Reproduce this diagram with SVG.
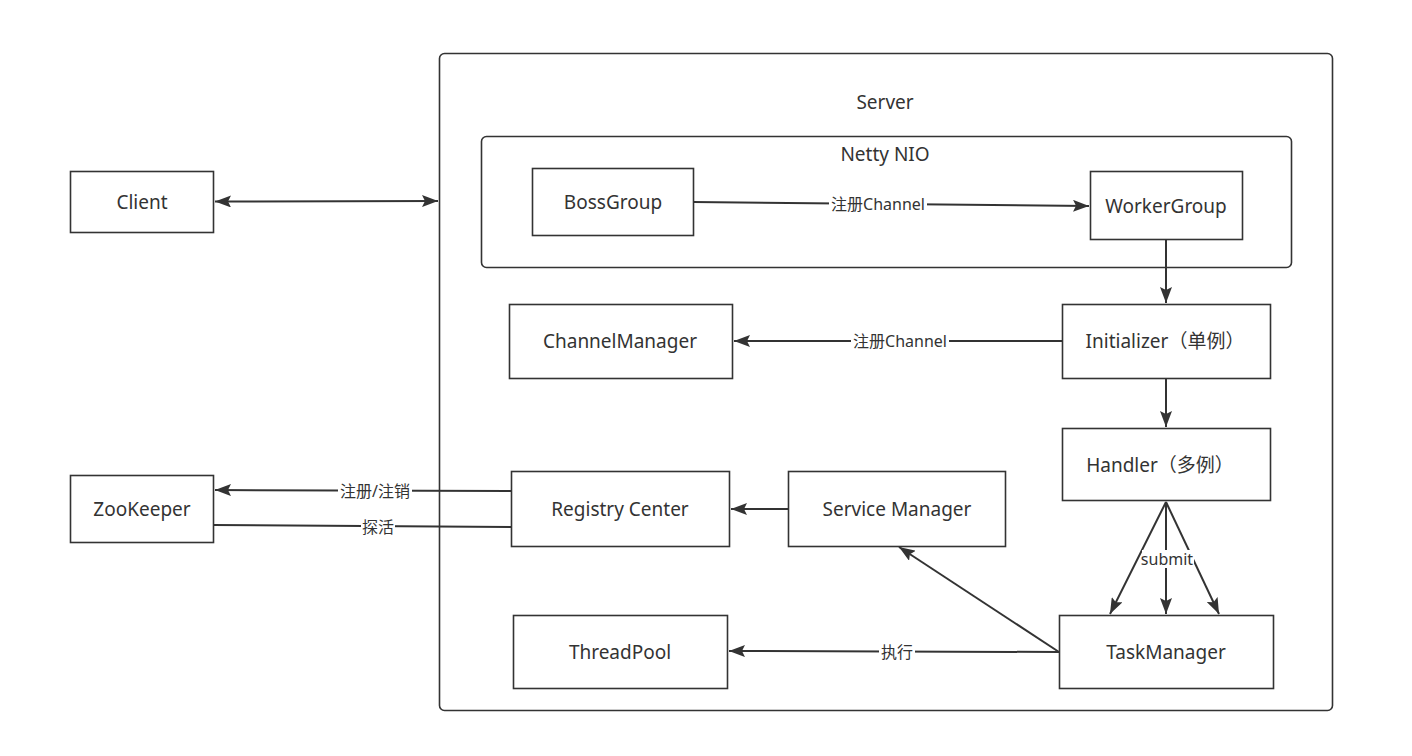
<svg xmlns="http://www.w3.org/2000/svg" width="1412" height="756" viewBox="0 0 1412 756">
<defs>
<marker id="arrL" viewBox="0 0 16 12" refX="16" refY="6" markerWidth="16" markerHeight="12" markerUnits="userSpaceOnUse" orient="auto-start-reverse">
<path d="M0,0 L16,6 L0,12 L3,6 z" fill="#333"/>
</marker>
<style>
.box{fill:#fff;stroke:#333;stroke-width:1.6}
.cont{fill:none;stroke:#333;stroke-width:1.6}
.t{font-family:"Noto Sans","Noto Sans CJK SC",sans-serif;font-size:19px;fill:#333;text-anchor:middle;dominant-baseline:central}
.e{fill:none;stroke:#333;stroke-width:2}
.lbl{font-family:"Noto Sans","Noto Sans CJK SC",sans-serif;font-size:16px;fill:#333;text-anchor:middle;dominant-baseline:central}
.bg{fill:#fff}
</style>
</defs>
<rect width="1412" height="756" fill="#fff"/>
<g id="server">
<rect class="cont" x="439.5" y="53.5" width="893" height="657" rx="5"/>
<text class="t" x="885" y="102">Server</text>
</g>
<g id="netty">
<rect class="cont" x="481.5" y="136.5" width="810" height="131" rx="5"/>
<text class="t" x="885" y="154">Netty NIO</text>
</g>
<g id="connectors">
<line class="e" x1="215" y1="201.5" x2="438" y2="201" marker-start="url(#arrL)" marker-end="url(#arrL)"/>
<line class="e" x1="693" y1="202" x2="1089" y2="206" marker-end="url(#arrL)"/>
<rect class="bg" x="829" y="195" width="98" height="18"/>
<text class="lbl" x="878" y="204">注册Channel</text>
<line class="e" x1="1166" y1="239" x2="1166" y2="303" marker-end="url(#arrL)"/>
<line class="e" x1="1062" y1="341" x2="734" y2="341" marker-end="url(#arrL)"/>
<rect class="bg" x="851" y="332" width="98" height="18"/>
<text class="lbl" x="900" y="341">注册Channel</text>
<line class="e" x1="1166" y1="378" x2="1166" y2="427" marker-end="url(#arrL)"/>
<line class="e" x1="1166" y1="502" x2="1110" y2="614" marker-end="url(#arrL)"/>
<line class="e" x1="1166" y1="502" x2="1166" y2="614" marker-end="url(#arrL)"/>
<line class="e" x1="1166" y1="502" x2="1219" y2="614" marker-end="url(#arrL)"/>
<rect class="bg" x="1142" y="550" width="52" height="18"/>
<text class="lbl" x="1167" y="559">submit</text>
<line class="e" x1="788" y1="509" x2="731" y2="509" marker-end="url(#arrL)"/>
<line class="e" x1="511" y1="491" x2="215" y2="490" marker-end="url(#arrL)"/>
<rect class="bg" x="338" y="481" width="74" height="19"/>
<text class="lbl" x="375" y="491">注册/注销</text>
<line class="e" x1="213" y1="525" x2="511" y2="527"/>
<rect class="bg" x="361" y="517" width="34" height="19"/>
<text class="lbl" x="378" y="527">探活</text>
<line class="e" x1="1059" y1="652" x2="729" y2="651" marker-end="url(#arrL)"/>
<rect class="bg" x="879" y="642" width="36" height="19"/>
<text class="lbl" x="897" y="652">执行</text>
<line class="e" x1="1059" y1="652" x2="899" y2="547" marker-end="url(#arrL)"/>
</g>
<g id="client">
<rect class="box" x="70.5" y="171.5" width="143" height="61"/>
<text class="t" x="142" y="202">Client</text>
</g>
<g id="zookeeper">
<rect class="box" x="70.5" y="475.5" width="143" height="67"/>
<text class="t" x="142" y="509">ZooKeeper</text>
</g>
<g id="bossgroup">
<rect class="box" x="532.5" y="168.5" width="161" height="67"/>
<text class="t" x="613" y="202">BossGroup</text>
</g>
<g id="workergroup">
<rect class="box" x="1090.5" y="171.5" width="152" height="68"/>
<text class="t" x="1166" y="206">WorkerGroup</text>
</g>
<g id="channelmanager">
<rect class="box" x="509.5" y="304.5" width="223" height="74"/>
<text class="t" x="620" y="341">ChannelManager</text>
</g>
<g id="initializer">
<rect class="box" x="1062.5" y="304.5" width="208" height="74"/>
<text class="t" x="1165" y="341">Initializer（单例）</text>
</g>
<g id="handler">
<rect class="box" x="1062.5" y="428.5" width="208" height="72"/>
<text class="t" x="1160" y="465">Handler（多例）</text>
</g>
<g id="registrycenter">
<rect class="box" x="511.5" y="471.5" width="218" height="75"/>
<text class="t" x="620" y="509">Registry Center</text>
</g>
<g id="servicemanager">
<rect class="box" x="788.5" y="471.5" width="217" height="75"/>
<text class="t" x="897" y="509">Service Manager</text>
</g>
<g id="threadpool">
<rect class="box" x="513.5" y="615.5" width="214" height="73"/>
<text class="t" x="620" y="652">ThreadPool</text>
</g>
<g id="taskmanager">
<rect class="box" x="1059.5" y="615.5" width="214" height="73"/>
<text class="t" x="1166" y="652">TaskManager</text>
</g>
</svg>
